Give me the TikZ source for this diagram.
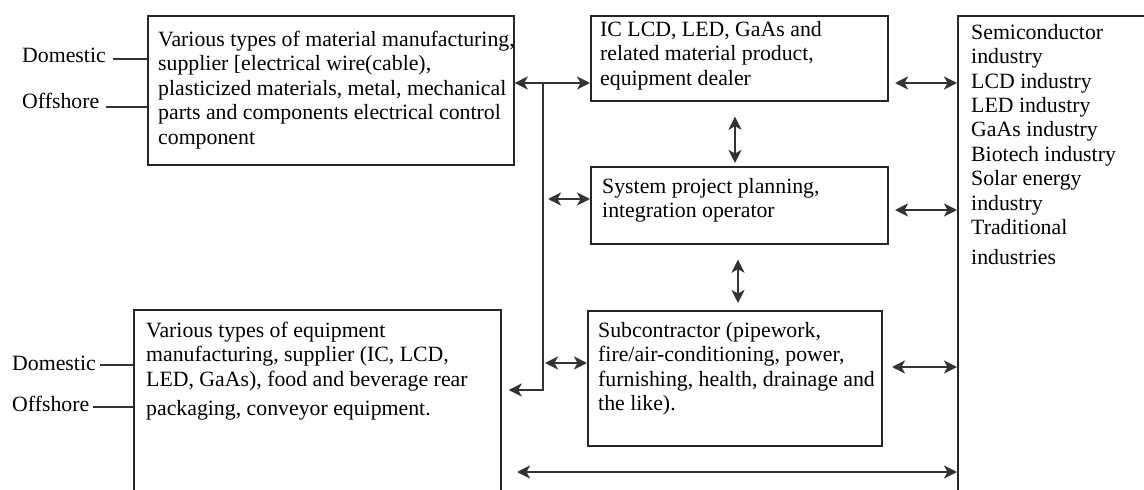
\documentclass[tikz,border=0pt]{standalone}
\usepackage{fontspec}
\setmainfont{Liberation Serif}
\usetikzlibrary{arrows.meta}
\begin{document}
\begin{tikzpicture}[x=1pt,y=-1pt,
  box/.style={draw=black!85,line width=1.7pt,rectangle,inner sep=0pt,anchor=north west},
  txt/.style={inner sep=0pt,anchor=north west,align=left,font=\fontsize{21.8}{24.4}\selectfont},
  lbl/.style={inner sep=0pt,anchor=base west,font=\fontsize{21.8}{24.4}\selectfont},
  lead/.style={draw=black!80,line width=1.7pt},
  link/.style={draw=black!80,line width=2.2pt,
    {Stealth[length=13pt,width=13pt,inset=3.5pt]}-{Stealth[length=13pt,width=13pt,inset=3.5pt]}},
  tolink/.style={draw=black!80,line width=2.2pt,-{Stealth[length=13pt,width=13pt,inset=3.5pt]}}]
  \useasboundingbox[fill=white] (0,0) rectangle (1144,490);
  \clip (0,0) rectangle (1144,490);

  % boxes
  \node[box,minimum width=366pt,minimum height=149pt] (mat) at (147,15) {};
  \node[box,minimum width=297pt,minimum height=85pt] (dealer) at (590,15) {};
  \node[box,minimum width=297pt,minimum height=77pt] (plan) at (590,166) {};
  \node[box,minimum width=294pt,minimum height=135pt] (sub) at (587,310) {};
  \node[box,minimum width=367pt,minimum height=220pt] (equip) at (133,309) {};
  \node[box,minimum width=230pt,minimum height=520pt] (ind) at (957,15) {};

  % box texts
  \node[txt] (matT) at (158,31) {Various types of material manufacturing,\\
    supplier [electrical wire(cable),\\
    plasticized materials, metal, mechanical\\
    parts and components electrical control\\
    component};
  \node[txt] (dealerT) at (600,21) {IC LCD, LED, GaAs and\\
    related material product,\\
    equipment dealer};
  \node[txt] (planT) at (602,178) {System project planning,\\
    integration operator};
  \node[txt] (subT) at (598,322) {Subcontractor (pipework,\\
    fire/air-conditioning, power,\\
    furnishing, health, drainage and\\
    the like).};
  \node[txt] (equipT) at (146,322) {Various types of equipment\\
    manufacturing, supplier (IC, LCD,\\
    LED, GaAs), food and beverage rear\\[5pt]
    packaging, conveyor equipment.};
  \node[txt] (indT) at (971,24) {Semiconductor\\
    industry\\
    LCD industry\\
    LED industry\\
    GaAs industry\\
    Biotech industry\\
    Solar energy\\
    industry\\
    Traditional\\[6pt]
    industries};

  % domestic / offshore sources
  \node[lbl] (dom1) at (22,62) {Domestic};
  \node[lbl] (off1) at (22,108) {Offshore};
  \node[lbl] (dom2) at (12,370) {Domestic};
  \node[lbl] (off2) at (12,411) {Offshore};
  \draw[lead] ([xshift=7pt,yshift=3pt]dom1.base east) -- ([yshift=3pt]dom1.base east -| mat.west);
  \draw[lead] ([xshift=7pt,yshift=1pt]off1.base east) -- ([yshift=1pt]off1.base east -| mat.west);
  \draw[lead] ([xshift=4pt,yshift=5pt]dom2.base east) -- ([yshift=5pt]dom2.base east -| equip.west);
  \draw[lead] ([xshift=4pt,yshift=4pt]off2.base east) -- ([yshift=4pt]off2.base east -| equip.west);

  % connectors
  \coordinate (fork) at (543,83);
  \coordinate (planL) at (548,199);
  \coordinate (subL) at (545,363);
  \coordinate (dealerR) at (895,83);
  \coordinate (planR) at (895,210);
  \coordinate (subR) at (892,367);
  \coordinate (baseL) at (517,472);

  \draw[link] ([yshift=-68pt]mat.north east) -- ([yshift=-68pt]dealer.north west);
  \draw[tolink] (fork) -- (fork |- 0,390) -- ([xshift=7pt]equip.east |- 0,390);
  \draw[link] (planL) -- (planL -| plan.west);
  \draw[link] (subL) -- (subL -| sub.west);
  \draw[link] (dealerR) -- (dealerR -| ind.west);
  \draw[link] (planR) -- (planR -| ind.west);
  \draw[link] (subR) -- (subR -| ind.west);
  \draw[link] (baseL) -- (baseL -| ind.west);
  \draw[link] ([yshift=-15pt]dealer.south -| 735,0) -- ([yshift=3pt]plan.north -| 735,0);
  \draw[link] ([yshift=-15pt]plan.south -| 738,0) -- ([yshift=7pt]sub.north -| 738,0);
\end{tikzpicture}
\end{document}
